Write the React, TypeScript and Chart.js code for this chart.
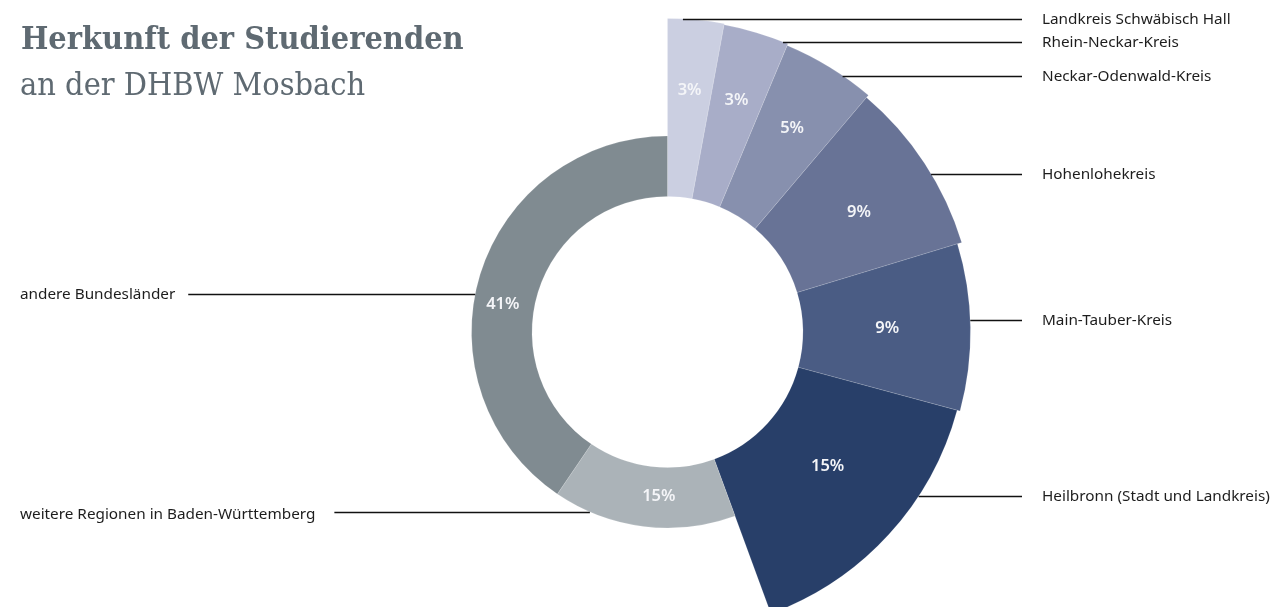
import React, { useEffect, useRef } from "react";
import { Chart, registerables } from "chart.js";

Chart.register(...registerables);

// ---- data ----
const regions: string[] = [
  "Landkreis Schwäbisch Hall",
  "Rhein-Neckar-Kreis",
  "Neckar-Odenwald-Kreis",
  "Hohenlohekreis",
  "Main-Tauber-Kreis",
  "Heilbronn (Stadt und Landkreis)",
  "weitere Regionen in Baden-Württemberg",
  "andere Bundesländer",
];
const shares: number[] = [2.9, 3.4, 4.9, 9.1, 8.9, 15.2, 15.1, 40.5];

const titleLine1 = "Herkunft der Studierenden";
const titleLine2 = "an der DHBW Mosbach";

// ---- styling ----
const colors = ["#cbcfe1", "#a8adc8", "#8790ae", "#687396", "#4a5c84", "#283f69", "#abb3b8", "#808b91"];
const innerRadiusPx = 135.5;
const outerRadiiPx = [313.5, 312.3, 310.5, 307.5, 303, 300, 196, 196];
const labelRadiiPx = [242.8, 241.7, 238.4, 225.6, 219.8, 209, 164.4, 167];
const labelAngleShiftDeg = [0, 0, 0, 1.4, 0, -2.5, -4, -7.5];
const leaderFraction = [0.27, 0.92, 0.66, 0.57, 0.46, 0.33, 0.8, 0.46];
const leaderSide = ["right", "right", "right", "right", "right", "right", "left", "left"];
const leaderGap = [0, 0, 0, 0, 0, 0, 19, 13];
const labelTextDy = [0, 0, 0, 0, 0, 0, 2, 0];
const labelFont = '15.3px "Noto Sans"';
const pctFont = '600 16.5px "Noto Sans"';
const rightLineEnd = 1022;
const rightTextX = 1042;
const leftTextX = 20;

const radiusPlugin = {
  id: "variableRadius",
  afterDatasetsUpdate(chart: any) {
    const meta = chart.getDatasetMeta(0);
    meta.data.forEach((arc: any, i: number) => {
      arc.innerRadius = innerRadiusPx;
      arc.outerRadius = outerRadiiPx[i];
    });
  },
};

const labelPlugin = {
  id: "labelsAndLeaders",
  afterDatasetsDraw(chart: any) {
    const ctx: CanvasRenderingContext2D = chart.ctx;
    const meta = chart.getDatasetMeta(0);
    const values: number[] = chart.data.datasets[0].data;
    const total = values.reduce((a, b) => a + b, 0);
    ctx.save();
    meta.data.forEach((arc: any, i: number) => {
      const { x, y, startAngle, endAngle, outerRadius } = arc;
      // percentage label
      const mid = (startAngle + endAngle) / 2 + (labelAngleShiftDeg[i] * Math.PI) / 180;
      ctx.fillStyle = "#f4f5f8";
      ctx.font = pctFont;
      ctx.textAlign = "center";
      ctx.textBaseline = "middle";
      const pct = Math.round((values[i] / total) * 100);
      ctx.fillText(pct + "%", x + labelRadiiPx[i] * Math.cos(mid), y + labelRadiiPx[i] * Math.sin(mid));

      // leader line + category label
      const la = startAngle + (endAngle - startAngle) * leaderFraction[i];
      const px = x + outerRadius * Math.cos(la);
      const py = Math.round(y + outerRadius * Math.sin(la)) + 0.5;
      ctx.strokeStyle = "#111111";
      ctx.lineWidth = 1.6;
      ctx.font = labelFont;
      ctx.fillStyle = "#1d1d1d";
      ctx.textBaseline = "middle";
      ctx.beginPath();
      if (leaderSide[i] === "right") {
        ctx.moveTo(px, py);
        ctx.lineTo(rightLineEnd, py);
        ctx.stroke();
        ctx.textAlign = "left";
        ctx.fillText(regions[i], rightTextX, py + labelTextDy[i]);
      } else {
        ctx.textAlign = "left";
        ctx.fillText(regions[i], leftTextX, py + labelTextDy[i]);
        const w = ctx.measureText(regions[i]).width;
        ctx.moveTo(leftTextX + w + leaderGap[i], py);
        ctx.lineTo(px, py);
        ctx.stroke();
      }
    });
    ctx.restore();
  },
};

export default function App() {
  const canvasRef = useRef<HTMLCanvasElement | null>(null);

  useEffect(() => {
    document.body.style.margin = "0";
    const canvas = canvasRef.current;
    if (!canvas) return;
    const chart = new Chart(canvas, {
      type: "doughnut",
      data: {
        labels: regions,
        datasets: [
          {
            data: shares,
            backgroundColor: colors,
            borderColor: "rgba(255,255,255,0.3)",
            borderWidth: 0.5,
            hoverOffset: 0,
            clip: false,
          } as any,
        ],
      },
      options: {
        responsive: false,
        animation: false,
        events: [],
        layout: { padding: { left: 60, right: 0, top: 57, bottom: 0 } },
        plugins: {
          legend: { display: false },
          tooltip: { enabled: false },
        },
      } as any,
      plugins: [radiusPlugin, labelPlugin],
    });
    return () => chart.destroy();
  }, []);

  const titleStyle: React.CSSProperties = {
    position: "absolute",
    left: 21,
    fontFamily: '"DejaVu Serif", serif',
    color: "#5f6a72",
    fontSize: 32,
    lineHeight: "32px",
    whiteSpace: "nowrap",
    transform: "scaleX(0.905)",
    transformOrigin: "0 0",
  };

  return (
    <div style={{ position: "absolute", left: 0, top: 0, width: 1275, height: 607, background: "#ffffff", overflow: "hidden" }}>
      <canvas ref={canvasRef} width={1275} height={607} style={{ position: "absolute", left: 0, top: 0 }} />
      <div style={{ ...titleStyle, top: 22.2, fontWeight: 700 }}>{titleLine1}</div>
      <div style={{ ...titleStyle, top: 67.9, left: 20, fontWeight: 400 }}>{titleLine2}</div>
    </div>
  );
}
